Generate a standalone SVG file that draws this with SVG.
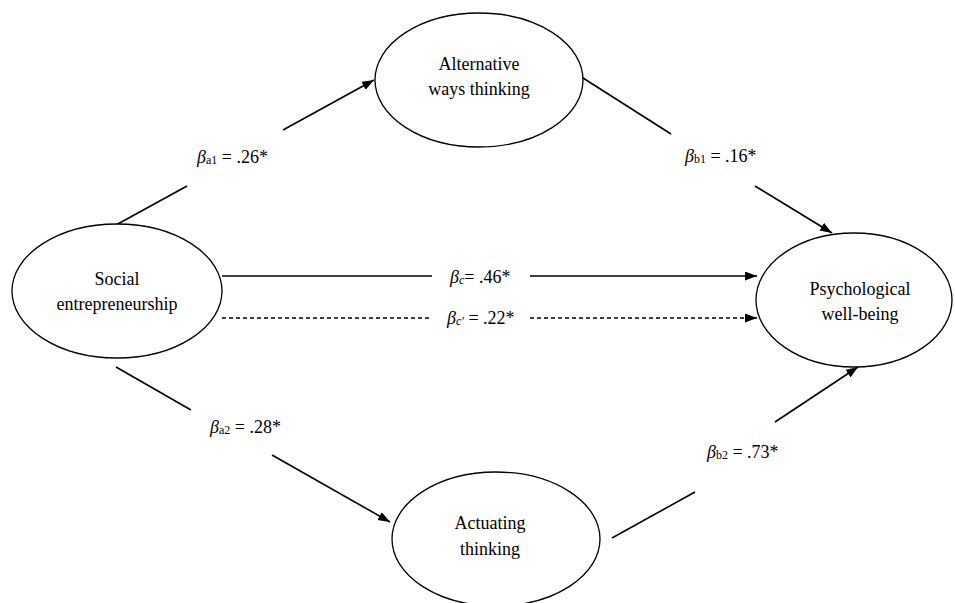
<svg xmlns="http://www.w3.org/2000/svg" width="955" height="603" viewBox="0 0 955 603">
<style>
.node{fill:#fff;stroke:#000;stroke-width:1.3}
text{font-family:'Liberation Serif','DejaVu Serif',serif;fill:#000}
.nt{font-size:18px;text-anchor:middle}
.lbl{font-size:18px}
.b{font-style:italic}
.sub{font-size:12px}
.ln{stroke:#000;stroke-width:1.6;fill:none}
.dash{stroke-dasharray:4,3;stroke-width:1.3}
</style>
<defs>
<marker id="ah" markerUnits="userSpaceOnUse" markerWidth="13" markerHeight="10" refX="12" refY="4.5" orient="auto">
<path d="M0,0 L12,4.5 L0,9 z" fill="#000"/>
</marker>
</defs>
<rect width="955" height="603" fill="#fff"/>
<g id="connectors">
<line class="ln" x1="116" y1="225" x2="187" y2="186"/>
<line class="ln" x1="283" y1="130" x2="374" y2="80" marker-end="url(#ah)"/>
<line class="ln" x1="583" y1="78" x2="671" y2="134"/>
<line class="ln" x1="755" y1="186" x2="832" y2="233" marker-end="url(#ah)"/>
<line class="ln" x1="222" y1="276" x2="432" y2="276"/>
<line class="ln" x1="530" y1="276" x2="757" y2="276" marker-end="url(#ah)"/>
<line class="ln dash" x1="222" y1="318" x2="432" y2="318"/>
<line class="ln dash" x1="530" y1="318" x2="757" y2="318" marker-end="url(#ah)"/>
<line class="ln" x1="116" y1="367" x2="191" y2="410"/>
<line class="ln" x1="272" y1="455" x2="390" y2="522" marker-end="url(#ah)"/>
<line class="ln" x1="612" y1="538" x2="695" y2="492"/>
<line class="ln" x1="775" y1="422" x2="858" y2="367" marker-end="url(#ah)"/>
</g>
<g id="labels" font-family="Liberation Serif, serif">
<text class="lbl" font-family="Liberation Serif, serif" x="197" y="163"><tspan class="b">β</tspan><tspan class="sub" dy="1">a1</tspan><tspan dy="-1"> = .26*</tspan></text>
<text class="lbl" font-family="Liberation Serif, serif" x="685" y="162"><tspan class="b">β</tspan><tspan class="sub" dy="1">b1</tspan><tspan dy="-1"> = .16*</tspan></text>
<text class="lbl" font-family="Liberation Serif, serif" x="450" y="283"><tspan class="b">β</tspan><tspan class="sub b" dy="1">c</tspan><tspan dy="-1">= .46*</tspan></text>
<text class="lbl" font-family="Liberation Serif, serif" x="447" y="324"><tspan class="b">β</tspan><tspan class="sub b" dy="1">c'</tspan><tspan dy="-1"> = .22*</tspan></text>
<text class="lbl" font-family="Liberation Serif, serif" x="210" y="433"><tspan class="b">β</tspan><tspan class="sub" dy="1">a2</tspan><tspan dy="-1"> = .28*</tspan></text>
<text class="lbl" font-family="Liberation Serif, serif" x="707" y="458"><tspan class="b">β</tspan><tspan class="sub" dy="1">b2</tspan><tspan dy="-1"> = .73*</tspan></text>
</g>
<g id="social">
<ellipse class="node" cx="117" cy="291" rx="105" ry="67"/>
<text class="nt" font-family="Liberation Serif, serif" x="117" y="285">Social</text>
<text class="nt" font-family="Liberation Serif, serif" x="117" y="310">entrepreneurship</text>
</g>
<g id="alternative">
<ellipse class="node" cx="479" cy="80" rx="104" ry="67"/>
<text class="nt" font-family="Liberation Serif, serif" x="479" y="70">Alternative</text>
<text class="nt" font-family="Liberation Serif, serif" x="479" y="95">ways thinking</text>
</g>
<g id="psych">
<ellipse class="node" cx="854" cy="300" rx="98" ry="67"/>
<text class="nt" font-family="Liberation Serif, serif" x="860" y="295">Psychological</text>
<text class="nt" font-family="Liberation Serif, serif" x="860" y="320">well-being</text>
</g>
<g id="actuating">
<ellipse class="node" cx="496" cy="539" rx="104" ry="67"/>
<text class="nt" font-family="Liberation Serif, serif" x="490" y="529">Actuating</text>
<text class="nt" font-family="Liberation Serif, serif" x="490" y="555">thinking</text>
</g>
</svg>
